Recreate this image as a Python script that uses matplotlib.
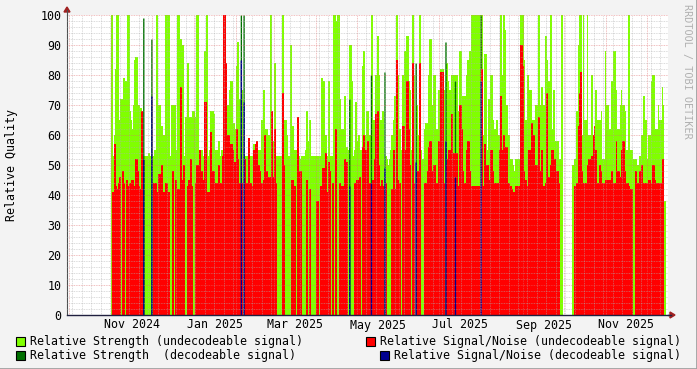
import matplotlib
matplotlib.use('Agg')

import matplotlib.pyplot as plt
import matplotlib.dates as mdates
from matplotlib.patches import Rectangle, Polygon
from matplotlib.ticker import MultipleLocator, FixedLocator, NullFormatter
import numpy as np
import datetime as dt

# Daily samples starting 2024-11-01 (None = no data)
first_day = dt.date(2024, 11, 1)

strength = [
    100, 53, 60, 82, 100, 65, 60, 72, 60, 79,
    78, 62, 100, 68, 65, 62, 70, 85, 86, 70,
    70, 69, 67, 99, 53, 53, 53, 54, 53, 92,
    53, 52, 55, 100, 57, 70, 53, 63, 60, 55,
    100, 55, 100, 53, 70, 55, 70, 55, 53, 100,
    60, 92, 90, 53, 53, 66, 84, 66, 66, 55,
    68, 66, 53, 100, 53, 55, 55, 53, 50, 88,
    100, 53, 55, 68, 68, 67, 53, 55, 55, 58,
    53, 55, 55, 100, 60, 60, 70, 75, 78, 62,
    64, 62, 83, 91, 72, 100, 75, 100, 53, 53,
    53, 53, 53, 50, 53, 57, 55, 52, 55, 55,
    53, 65, 75, 60, 62, 60, 60, 100, 55, 58,
    84, 53, 53, 53, 53, 53, 100, 63, 65, 60,
    53, 53, 90, 63, 55, 53, 55, 55, 53, 52,
    53, 53, 53, 55, 68, 58, 65, 53, 53, 53,
    53, 53, 53, 53, 53, 79, 78, 57, 60, 53,
    78, 53, 53, 53, 100, 98, 53, 100, 72, 55,
    62, 53, 73, 56, 55, 72, 90, 78, 53, 55,
    71, 58, 60, 53, 55, 83, 88, 60, 68, 68,
    60, 80, 100, 65, 56, 80, 93, 80, 65, 58,
    68, 81, 53, 52, 50, 52, 55, 60, 65, 73,
    100, 80, 62, 55, 55, 80, 88, 76, 93, 78,
    75, 55, 100, 80, 84, 70, 60, 100, 55, 52,
    50, 62, 64, 58, 80, 92, 70, 55, 80, 62,
    62, 75, 70, 82, 82, 75, 91, 84, 78, 75,
    75, 80, 80, 78, 80, 68, 68, 88, 62, 73,
    73, 73, 80, 85, 88, 86, 100, 100, 70, 100,
    66, 100, 100, 100, 60, 87, 87, 55, 72, 72,
    80, 65, 62, 62, 65, 60, 60, 100, 80, 100,
    95, 70, 60, 60, 52, 52, 50, 48, 52, 52,
    52, 52, 100, 100, 85, 65, 50, 80, 75, 75,
    65, 65, 65, 70, 70, 100, 70, 76, 70, 70,
    93, 85, 78, 78, 100, 62, 75, 55, 58, 58,
    50, 52, 100, 53, None, None, None, None, None, None,
    50, 52, 52, 68, 90, 100, 100, 60, 100, 65,
    65, 100, 60, 60, 80, 60, 60, 75, 65, 65,
    65, 68, 52, 52, 88, 70, 70, 62, 62, 78,
    88, 88, 75, 62, 62, 70, 75, 70, 70, 68,
    55, 100, 100, 55, 55, 52, 52, 52, 50, 53,
    53, 60, 73, 73, 65, 52, 60, 60, 78, 80,
    80, 62, 62, 70, 65, 65, 76, 70, 38,
]

snr = [
    0, 41, 57, 43, 42, 44, 46, 0, 48, 44,
    0, 45, 43, 44, 0, 45, 43, 0, 52, 48,
    43, 42, 68, 52, 0, 0, 0, 0, 0, 73,
    0, 44, 44, 0, 41, 47, 41, 50, 41, 0,
    44, 0, 41, 0, 0, 48, 0, 45, 0, 42,
    42, 76, 45, 50, 0, 0, 43, 45, 52, 43,
    0, 0, 44, 50, 0, 55, 48, 45, 39, 71,
    0, 41, 41, 61, 48, 48, 44, 44, 44, 50,
    44, 44, 53, 100, 84, 48, 60, 50, 57, 55,
    51, 51, 62, 52, 44, 85, 44, 71, 52, 44,
    44, 59, 44, 43, 41, 55, 57, 58, 50, 48,
    44, 44, 45, 60, 48, 44, 46, 46, 68, 46,
    62, 44, 0, 0, 0, 0, 74, 50, 0, 0,
    0, 0, 0, 45, 43, 43, 0, 66, 0, 48,
    0, 0, 0, 0, 45, 0, 42, 0, 0, 0,
    0, 38, 38, 0, 43, 43, 49, 0, 54, 41,
    51, 48, 0, 44, 0, 62, 0, 0, 44, 42,
    43, 0, 52, 51, 0, 43, 0, 0, 0, 44,
    0, 45, 45, 46, 0, 56, 60, 55, 50, 58,
    44, 44, 43, 45, 52, 67, 68, 50, 43, 45,
    43, 49, 44, 0, 0, 0, 0, 42, 55, 42,
    85, 45, 44, 0, 0, 63, 50, 55, 78, 62,
    50, 0, 84, 44, 51, 44, 48, 84, 0, 0,
    0, 44, 44, 48, 56, 58, 46, 48, 50, 44,
    44, 58, 53, 81, 81, 44, 58, 50, 52, 55,
    45, 67, 54, 46, 54, 43, 43, 70, 62, 48,
    44, 44, 55, 58, 48, 43, 43, 43, 43, 43,
    43, 43, 78, 82, 43, 57, 44, 50, 45, 45,
    55, 48, 44, 44, 43, 44, 55, 73, 55, 60,
    48, 56, 44, 44, 43, 42, 41, 41, 43, 43,
    43, 43, 90, 83, 48, 45, 0, 43, 55, 55,
    64, 60, 0, 50, 50, 66, 48, 55, 43, 43,
    44, 74, 46, 46, 50, 55, 48, 52, 48, 48,
    44, 0, 0, 44, None, None, None, None, None, None,
    0, 43, 43, 44, 63, 74, 81, 48, 44, 44,
    44, 50, 52, 52, 53, 60, 63, 55, 44, 44,
    50, 48, 44, 44, 45, 45, 45, 45, 45, 48,
    44, 44, 58, 48, 48, 46, 55, 58, 58, 48,
    44, 44, 43, 42, 42, 0, 48, 48, 44, 48,
    48, 50, 44, 44, 44, 44, 45, 45, 44, 50,
    50, 45, 44, 44, 44, 44, 52, 52, 0,
]

# days (index from first_day) on which the signal was decodeable
decoded_days = [23, 29, 95, 97, 175, 191, 201, 224, 246, 253, 272]

month_labels = ['Nov 2024', 'Jan 2025', 'Mar 2025', 'May 2025',
                'Jul 2025', 'Sep 2025', 'Nov 2025']
label_months = [(2024, 11), (2025, 1), (2025, 3), (2025, 5),
                (2025, 7), (2025, 9), (2025, 11)]

legend_items = [
    ('Relative Strength (undecodeable signal)', '#80FF00'),
    ('Relative Strength  (decodeable signal)', '#007000'),
    ('Relative Signal/Noise (undecodeable signal)', '#FF0000'),
    ('Relative Signal/Noise (decodeable signal)', '#000090'),
]

MONO = 'DejaVu Sans Mono'
FS = 8.4


def main():
    W, H = 697, 369
    fig = plt.figure(figsize=(W / 100, H / 100), dpi=100, facecolor='#F3F3F3')
    ax = fig.add_axes([67 / W, 54 / H, 601 / W, 300 / H], facecolor='white')

    s = np.array(strength, dtype=float)
    n = np.array(snr, dtype=float)
    dec = np.zeros(len(s), dtype=bool)
    dec[decoded_days] = True

    x0 = mdates.date2num(first_day)
    x = x0 + np.arange(len(s) + 1)

    def ext(v):
        return np.append(v, v[-1])

    green = np.where(dec, 0, s)
    dgreen = np.where(dec, s, 0)
    red = np.where(dec, 0, n)
    blue = np.where(dec, n, 0)

    for vals, col in [(green, '#80FF00'), (dgreen, '#007000'),
                      (red, '#FF0000'), (blue, '#000090')]:
        ax.fill_between(x, 0, ext(vals), step='post', color=col,
                        linewidth=0, antialiased=False)

    ax.set_xlim(x0 - 32.8, x0 + 410.7)
    ax.set_ylim(0, 100)

    # grid
    months = [mdates.date2num(dt.date(y, m, 1))
              for y in (2024, 2025) for m in range(1, 13)]
    mondays = mdates.date2num(first_day) + np.arange(-60, 460, 7) - 4
    ax.xaxis.set_major_locator(FixedLocator(months))
    ax.xaxis.set_minor_locator(FixedLocator(mondays))
    ax.xaxis.set_major_formatter(NullFormatter())
    ax.yaxis.set_major_locator(MultipleLocator(10))
    ax.yaxis.set_minor_locator(MultipleLocator(2))
    ax.set_axisbelow(False)
    ax.grid(which='minor', color='#B0B0B0', linestyle=(0, (1, 1)),
            linewidth=0.6, alpha=0.6)
    ax.grid(which='major', color='#E07070', linestyle=(0, (1, 1)),
            linewidth=0.6, alpha=0.6)

    ax.tick_params(which='both', length=0)
    ax.tick_params(axis='y', labelsize=FS, pad=4)
    for lab in ax.get_yticklabels():
        lab.set_family(MONO)

    for sp in ['top', 'right']:
        ax.spines[sp].set_visible(False)
    ax.spines['left'].set_color('#505050')
    ax.spines['bottom'].set_color('#202040')
    ax.spines['left'].set_linewidth(0.8)
    ax.spines['bottom'].set_linewidth(1.0)

    # month labels centred in their month
    for (yy, mm), text in zip(label_months, month_labels):
        start = dt.date(yy, mm, 1)
        nxt = dt.date(yy + (mm == 12), mm % 12 + 1, 1)
        xm = mdates.date2num(start) + (nxt - start).days / 2
        ax.text(xm, -10 / 3, text, ha='center', va='center',
                fontsize=FS, family=MONO)

    fig.text(12 / W, 1 - 165 / H, 'Relative Quality', rotation=90,
             ha='center', va='center', fontsize=FS, family=MONO)

    # axis arrows
    fig.patches.append(Polygon([[64 / W, 1 - 12 / H], [70 / W, 1 - 12 / H],
                                [67 / W, 1 - 7 / H]], closed=True,
                               transform=fig.transFigure, color='#A02020'))
    fig.patches.append(Polygon([[670 / W, 1 - 312 / H], [670 / W, 1 - 318 / H],
                                [675 / W, 1 - 315 / H]], closed=True,
                               transform=fig.transFigure, color='#A02020'))
    fig.lines.append(plt.Line2D([668 / W, 671 / W], [1 - 315 / H, 1 - 315 / H],
                                transform=fig.transFigure, color='#202040', lw=1))
    fig.lines.append(plt.Line2D([67 / W, 67 / W], [1 - 15 / H, 1 - 10 / H],
                                transform=fig.transFigure, color='#505050', lw=0.8))

    # legend (rrdtool style)
    rows = [(30, 341), (30, 355), (380, 341), (394, 355)]
    for (label, col), (tx, ty) in zip(legend_items, rows):
        fig.patches.append(Rectangle(((tx - 14) / W, 1 - (ty + 5) / H),
                                     9 / W, 9 / H, transform=fig.transFigure,
                                     facecolor=col, edgecolor='black', lw=0.8))
        fig.text(tx / W, 1 - ty / H, label, ha='left', va='center',
                 fontsize=FS, family=MONO)

    fig.text(687 / W, 1 - 4 / H, 'RRDTOOL / TOBI OETIKER', rotation=270,
             ha='center', va='top', fontsize=7.3, family=MONO, color='#B0B0B0')

    # frame
    fig.lines.append(plt.Line2D([0, 1], [0.5 / H, 0.5 / H],
                                transform=fig.transFigure, color='#A0A0A0', lw=2))
    fig.lines.append(plt.Line2D([1 - 0.5 / W, 1 - 0.5 / W], [0, 1],
                                transform=fig.transFigure, color='#A0A0A0', lw=2))

    fig.savefig('out.png', dpi=100, facecolor=fig.get_facecolor())


if __name__ == '__main__':
    main()
